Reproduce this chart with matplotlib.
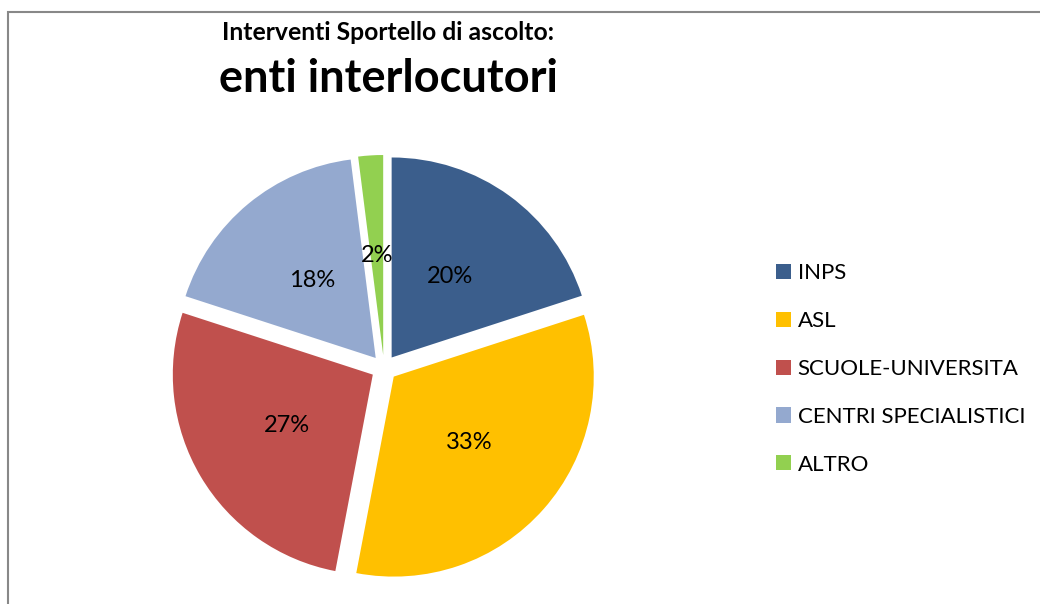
import matplotlib
matplotlib.use("Agg")
import matplotlib.pyplot as plt
from matplotlib.patches import Rectangle, Patch

labels = ["INPS", "ASL", "SCUOLE-UNIVERSITA", "CENTRI SPECIALISTICI", "ALTRO"]
values = [20, 33, 27, 18, 2]
colors = ["#3B5E8C", "#FFC000", "#C0504D", "#94A9CF", "#92D050"]

plt.rcParams["font.family"] = ["Lato", "DejaVu Sans"]

fig = plt.figure(figsize=(10.4, 6.04), dpi=100)
W, H = 1040, 604

# pie centre ~ (384, 368) px, radius ~200 px
cx, cy, r = 384, 368, 200
half = 1.12 * r
ax = fig.add_axes([(cx - half) / W, (H - cy - half) / H, 2 * half / W, 2 * half / H])
wedges, texts, autotexts = ax.pie(
    values, colors=colors, startangle=90, counterclock=False,
    explode=[0.065] * len(values), autopct="%.0f%%", pctdistance=0.5,
    wedgeprops=dict(linewidth=0), textprops=dict(fontsize=17, color="black"),
)
ax.set_xlim(-1.12, 1.12)
ax.set_ylim(-1.12, 1.12)
ax.set_aspect("equal")
ax.axis("off")

fig.text(388 / W, 1 - 33 / H, "Interventi Sportello di ascolto:", ha="center", va="center",
         fontsize=17.8, fontweight="bold")
fig.text(388 / W, 1 - 79 / H, "enti interlocutori", ha="center", va="center",
         fontsize=32.5, fontweight="bold")

handles = [Patch(facecolor=c, edgecolor="none") for c in colors]
fig.legend(handles, labels, loc="center left", bbox_to_anchor=(756 / W, 1 - 369 / H),
           frameon=False, fontsize=16, labelspacing=1.25, handlelength=0.68,
           handleheight=0.68, handletextpad=0.3)

fig.add_artist(Rectangle((8 / W, -0.05), 1.1, 1 - 11.5 / H + 0.05, transform=fig.transFigure,
                         fill=False, edgecolor="#888888", linewidth=1.5))

fig.savefig("out.png", dpi=100)
